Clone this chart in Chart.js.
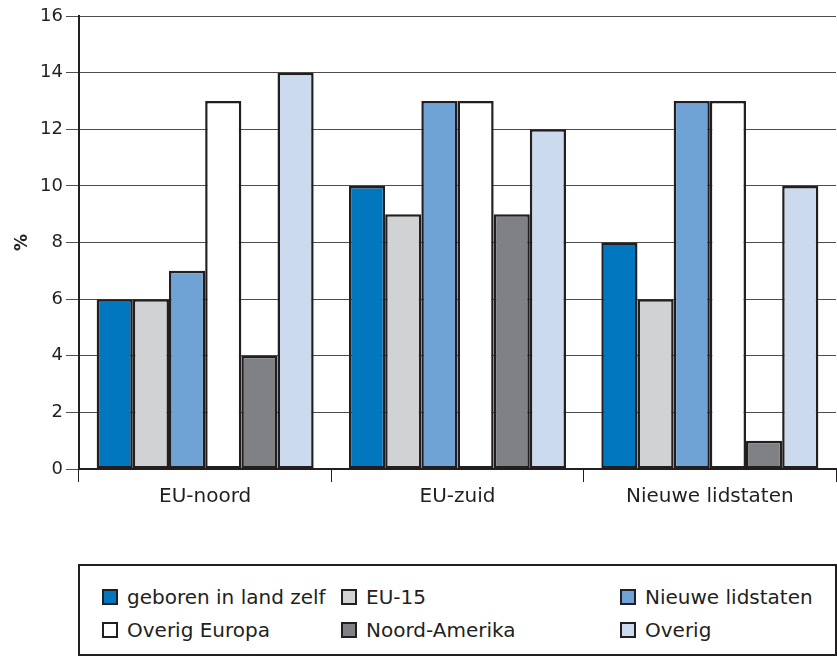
<!DOCTYPE html>
<html>
<head>
<meta charset="utf-8">
<script src="https://cdn.jsdelivr.net/npm/chart.js@4/dist/chart.umd.min.js"></script>
<style>
  body { margin: 0; background: #fff; font-family: "DejaVu Sans", sans-serif; }
  #wrap { position: absolute; left: 0; top: 0; width: 837px; height: 545px; }
  #legend {
    position: absolute; left: 78px; top: 564px; width: 755px; height: 88px;
    border: 2px solid #231f20; box-sizing: content-box;
  }
  .item { position: absolute; font-size: 20px; color: #231f20; line-height: 22px; white-space: nowrap; }
  .item span.box {
    display: inline-block; width: 12px; height: 12px; border: 2.5px solid #231f20;
    vertical-align: -1px; margin-right: 9px;
  }
</style>
</head>
<body>
<div id="wrap"><canvas id="chart" width="837" height="545"></canvas></div>
<div id="legend"></div>
<script>
// categories and series (percentages)
const categories = ["EU-noord", "EU-zuid", "Nieuwe lidstaten"];
const seriesNames = ["geboren in land zelf", "EU-15", "Nieuwe lidstaten", "Overig Europa", "Noord-Amerika", "Overig"];
const geborenInLand = [6, 10, 8];
const eu15 = [6, 9, 6];
const nieuweLidstaten = [7, 13, 13];
const overigEuropa = [13, 13, 13];
const noordAmerika = [4, 9, 1];
const overig = [14, 12, 10];
const yTicks = [0, 2, 4, 6, 8, 10, 12, 14, 16];

const colors = ["#0077be", "#d1d2d4", "#6fa3d5", "#ffffff", "#808184", "#cbdaec"];
const values = [geborenInLand, eu15, nieuweLidstaten, overigEuropa, noordAmerika, overig];
const ink = "#231f20";

new Chart(document.getElementById("chart"), {
    type: "bar",
    data: {
        labels: categories,
        datasets: values.map((v, i) => ({
            label: seriesNames[i],
            data: v,
            backgroundColor: colors[i],
            borderColor: ink,
            borderWidth: 2.5,
            borderSkipped: false
        }))
    },
    options: {
        responsive: false,
        animation: false,
        layout: { padding: { top: 16, right: 1, left: 12, bottom: 0 } },
        plugins: { legend: { display: false }, tooltip: { enabled: false } },
        datasets: { bar: { categoryPercentage: 0.86, barPercentage: 1 } },
        scales: {
            x: {
                grid: { offset: true, drawOnChartArea: false, drawTicks: true, tickLength: 13, color: ink, lineWidth: 1 },
                border: { color: ink, width: 2 },
                ticks: { color: ink, font: { family: "DejaVu Sans", size: 20 }, padding: 3 },
                afterFit: s => { s.height = 545 - 469; }
            },
            y: {
                min: 0, max: 16,
                afterBuildTicks: s => { s.ticks = yTicks.map(v => ({ value: v })); },
                grid: { color: "#4d4d4f", lineWidth: 1, tickLength: 13 },
                border: { color: ink, width: 2 },
                ticks: { color: ink, font: { family: "DejaVu Sans", size: 18 }, padding: 3 },
                title: { display: true, text: "%", color: ink, font: { family: "DejaVu Sans", size: 17, weight: "bold" }, padding: 0 },
                afterFit: s => { s.width = 79 - 12; }
            }
        }
    }
});

// legend box, three columns
const legend = document.getElementById("legend");
const colX = [22, 261, 540];
const rowY = [20, 53];
seriesNames.forEach((name, i) => {
    const d = document.createElement("div");
    d.className = "item";
    d.style.left = colX[i % 3] + "px";
    d.style.top = rowY[Math.floor(i / 3)] + "px";
    d.innerHTML = '<span class="box" style="background:' + colors[i] + '"></span>' + name;
    legend.appendChild(d);
});
</script>
</body>
</html>
